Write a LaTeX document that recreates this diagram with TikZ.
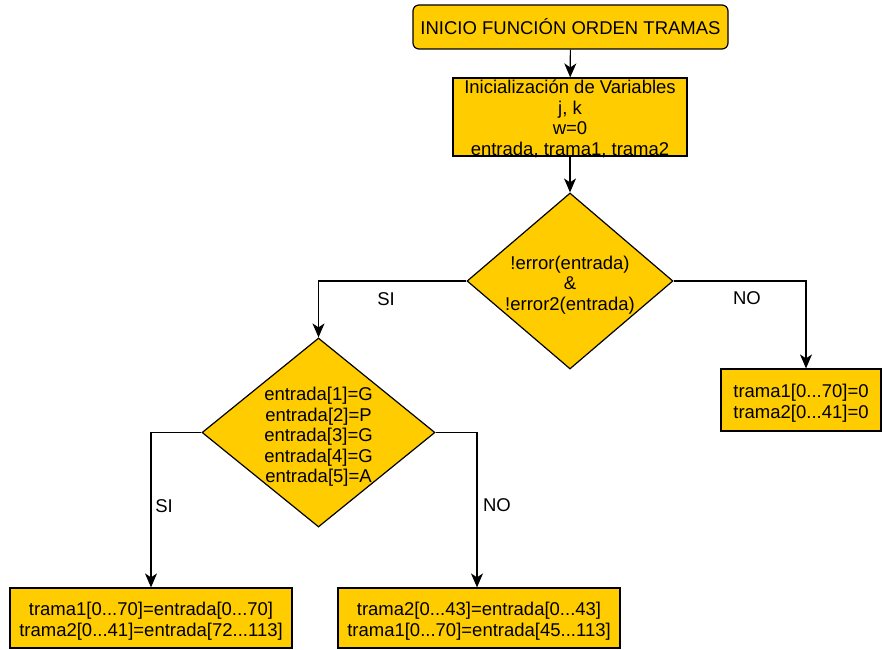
\documentclass[tikz,border=0pt]{standalone}
\usepackage{fontspec}
\setmainfont{Liberation Sans}
\usetikzlibrary{shapes.geometric,arrows.meta}
\definecolor{boxgold}{RGB}{255,204,0}
\begin{document}
\begin{tikzpicture}[x=1pt,y=-1pt,
  every node/.style={font=\fontsize{18.5}{20.6}\selectfont},
  procbox/.style={draw=black, fill=boxgold, line width=1.2pt, rectangle,
    align=center, inner sep=0pt},
  startbox/.style={procbox, rounded corners=6pt},
  decision/.style={draw=black, fill=boxgold, line width=1.2pt, diamond,
    inner sep=0pt},
  txt/.style={align=center, inner sep=0pt},
  lbl/.style={inner sep=0pt},
  flow/.style={draw=black, line width=1.2pt,
    -{Stealth[length=14pt,width=12pt,inset=4pt]}}
]
\useasboundingbox (0,0) rectangle (883,650);

% start and initialisation
\node[startbox, minimum width=315pt, minimum height=44pt] (start) at (570.5,27)
  {INICIO FUNCIÓN ORDEN TRAMAS};
\node[procbox, minimum width=234pt, minimum height=78pt] (init) at (570,117) {};
\node[txt] (initt) at (570,119)
  {Inicialización de Variables\\ j, k\\ w=0\\ entrada, trama1, trama2};

% first decision
\node[decision, minimum width=206pt, minimum height=176pt] (d1) at (570,281) {};
\node[txt] (d1t) at (570,285) {!error(entrada)\\ \&\\ !error2(entrada)};

% result when the input has errors
\node[procbox, minimum width=160pt, minimum height=62pt] (zero) at (801,400) {};
\node[txt] (zerot) at (801,403) {trama1[0...70]=0\\ trama2[0...41]=0};

% second decision
\node[decision, minimum width=233pt, minimum height=189pt] (d2) at (318.5,432.5) {};
\node[txt] (d2t) at (318.5,437)
  {entrada[1]=G\\ entrada[2]=P\\ entrada[3]=G\\ entrada[4]=G\\ entrada[5]=A};

% final assignments
\node[procbox, minimum width=282pt, minimum height=60pt] (fa) at (151,618) {};
\node[txt] (fat) at (151,621)
  {trama1[0...70]=entrada[0...70]\\ trama2[0...41]=entrada[72...113]};
\node[procbox, minimum width=282pt, minimum height=60pt] (fb) at (479,618) {};
\node[txt] (fbt) at (479,621)
  {trama2[0...43]=entrada[0...43]\\ trama1[0...70]=entrada[45...113]};

% connectors
\draw[flow] (start) -- (init);
\draw[flow] (init) -- (d1);
\draw[flow] (d1.west) -| (d2.north);
\draw[flow] (d1.east) -| ([xshift=5pt]zero.north);
\draw[flow] (d2.west) -| (fa.north);
\draw[flow] (d2.east) -| ([xshift=-2pt]fb.north);

% branch labels
\node[lbl] (si1) at (386,299) {SI};
\node[lbl] (no1) at (747,298) {NO};
\node[lbl] (si2) at (164,506) {SI};
\node[lbl] (no2) at (497,505) {NO};
\end{tikzpicture}
\end{document}
